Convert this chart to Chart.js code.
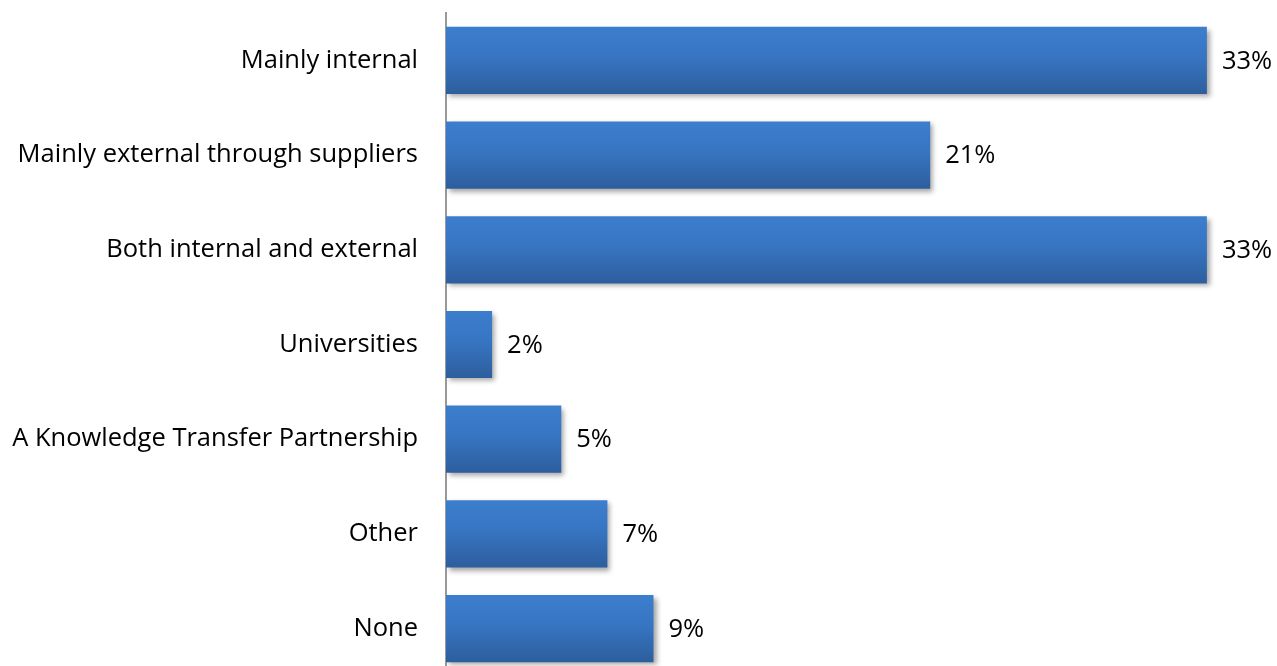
<!DOCTYPE html>
<html>
<head>
<meta charset="utf-8">
<script src="https://cdn.jsdelivr.net/npm/chart.js@4"></script>
<style>
  html, body { margin: 0; padding: 0; background: #fff; overflow: hidden; }
  .chart-box { position: relative; width: 1277px; height: 680px; }
</style>
</head>
<body>
<div class="chart-box">
    <canvas id="sourcesChart"></canvas>
</div>

<script>
const categories = ['Mainly internal', 'Mainly external through suppliers', 'Both internal and external', 'Universities', 'A Knowledge Transfer Partnership', 'Other', 'None'];
const shares = [33, 21, 33, 2, 5, 7, 9];

const FONT = '"Open Sans", "Noto Sans", sans-serif';
const FONT_SIZE = 25.5;
const BAR_FILL = 0.71;

// vertical blue gradient per bar, worked out from the category band
function barGradient(context) {
    const chart = context.chart;
    const yScale = chart.scales.y;
    if (!chart.chartArea || !yScale) return '#3775c2';
    const center = yScale.getPixelForValue(context.dataIndex);
    const half = (chart.chartArea.height / categories.length) * BAR_FILL / 2;
    if (!isFinite(center) || !isFinite(half)) return '#3775c2';
    const g = chart.ctx.createLinearGradient(0, center - half, 0, center + half);
    g.addColorStop(0, '#3c7ecd');
    g.addColorStop(0.45, '#3775c2');
    g.addColorStop(1, '#2d5e9d');
    return g;
}

// soft drop shadow under the bars
const shadowPlugin = {
    id: 'barShadow',
    beforeDatasetDraw(chart) {
        const ctx = chart.ctx;
        ctx.save();
        ctx.shadowColor = 'rgba(0,0,0,0.35)';
        ctx.shadowBlur = 5;
        ctx.shadowOffsetX = 3;
        ctx.shadowOffsetY = 3;
    },
    afterDatasetDraw(chart) {
        chart.ctx.restore();
    }
};

const valueLabels = {
    id: 'valueLabels',
    afterDatasetsDraw(chart) {
        const ctx = chart.ctx;
        const meta = chart.getDatasetMeta(0);
        ctx.save();
        ctx.font = FONT_SIZE + 'px ' + FONT;
        ctx.fillStyle = '#000';
        ctx.textAlign = 'left';
        ctx.textBaseline = 'middle';
        meta.data.forEach((bar, i) => {
            ctx.fillText(shares[i] + '%', bar.x + 15, bar.y + 1);
        });
        ctx.restore();
    }
};

const ctx = document.getElementById('sourcesChart').getContext('2d');
new Chart(ctx, {
    type: 'bar',
    data: {
        labels: categories,
        datasets: [{
            data: shares,
            backgroundColor: barGradient,
            borderWidth: 0,
            categoryPercentage: BAR_FILL,
            barPercentage: 1.0
        }]
    },
    options: {
        indexAxis: 'y',
        responsive: true,
        maintainAspectRatio: false,
        animation: false,
        layout: { padding: { top: 13, right: 24, bottom: 4, left: 0 } },
        scales: {
            x: {
                display: false,
                min: 0,
                max: 35
            },
            y: {
                afterFit(scale) {
                    scale.width = 446;
                    // tick padding should only push labels sideways
                    scale.paddingTop = 0;
                    scale.paddingBottom = 0;
                },
                grid: { display: false, drawTicks: false },
                border: { display: true, color: '#999999', width: 2 },
                ticks: {
                    padding: 28,
                    color: '#000',
                    font: { family: FONT, size: FONT_SIZE }
                }
            }
        },
        plugins: {
            legend: { display: false },
            tooltip: { enabled: false }
        }
    },
    plugins: [shadowPlugin, valueLabels]
});
</script>
</body>
</html>
